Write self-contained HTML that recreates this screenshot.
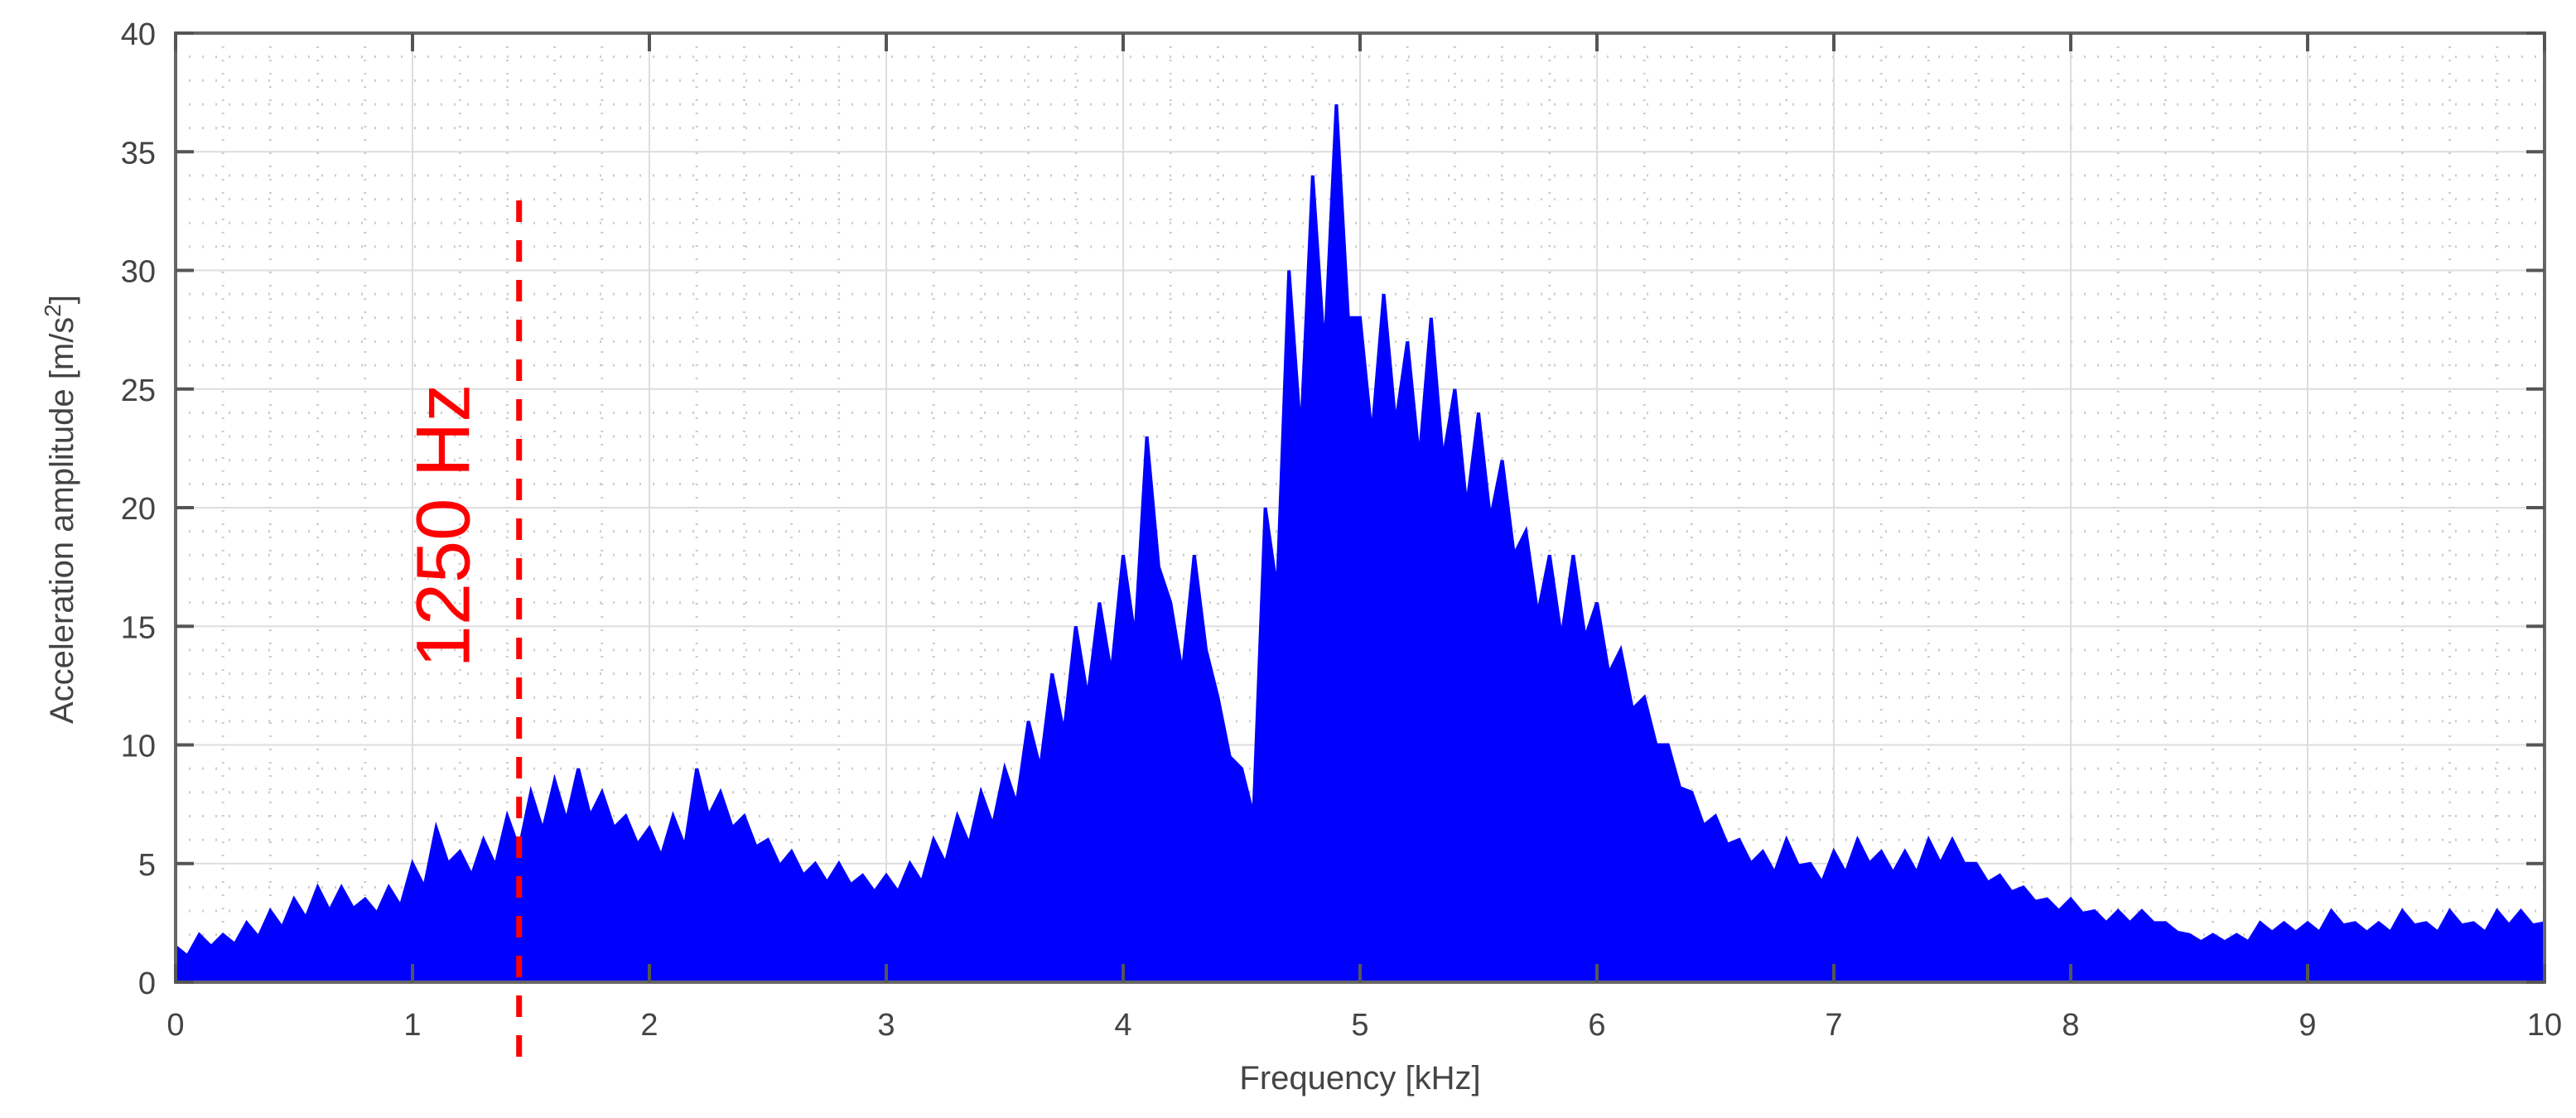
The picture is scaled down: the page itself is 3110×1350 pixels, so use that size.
<!DOCTYPE html>
<html><head><meta charset="utf-8"><style>
html,body{margin:0;padding:0;background:#fff}
svg{display:block}
text{font-family:"Liberation Sans",sans-serif}
</style></head><body>
<svg id="chart" width="3110" height="1350" viewBox="0 0 3110 1350" xmlns="http://www.w3.org/2000/svg">
<g id="grid"></g>
<g id="series"></g>
<g id="axes"></g>
<text transform="translate(88,615) rotate(-90)" text-anchor="middle" font-size="40" fill="#444">Acceleration amplitude [m/s<tspan baseline-shift="super" font-size="28">2</tspan>]</text>
<text x="1642" y="1315" text-anchor="middle" font-size="40" fill="#444">Frequency [kHz]</text>
<g id="marker"></g>
</svg>
<script>
const xTicks=[0,1,2,3,4,5,6,7,8,9,10];
const yTicks=[0,5,10,15,20,25,30,35,40];
const peakValues=[1.5,2,2,2.5,3,3.5,4,4,3.5,4,5,6.5,5.5,6,7,8,8.5,9,8,7,6.5,7,9,8,7,6,5.5,5,5,4.5,4.5,5,6,7,8,9,11,13,15,16,18,23,16,18,12,9,20,30,34,37,28,29,27,28,25,24,22,19,18,18,16,14,12,10,8,7,6,5.5,6,5,5.5,6,5.5,5.5,6,6,5,4.5,4,3.5,3.5,3,3,3,2.5,2,2,2,2.5,2.5,2.5,3,2.5,2.5,3,2.5,3,2.5,3,3];
const midValues=[1.1,1.5,1.6,1.9,2.3,2.7,3,3.1,2.9,3.2,4,5,4.5,4.9,5.6,6.4,6.8,7,6.5,5.8,5.3,5.7,7,6.5,5.7,4.9,4.5,4.2,4.1,3.8,3.8,4.2,5,5.8,6.6,7.5,9,10.5,12,13,14.5,17.5,13,14,9.5,7,16.5,23,26.5,28,23,23.5,22,22,20,19.5,18,15.5,14.5,14.5,13,11.5,10,8.2,6.6,5.8,5,4.6,4.9,4.2,4.6,5,4.6,4.6,5,5,4.2,3.8,3.4,3,2.9,2.5,2.5,2.5,2.1,1.7,1.7,1.7,2.1,2.1,2.1,2.4,2.1,2.1,2.4,2.1,2.4,2.1,2.4,2.4];
const cutoffKHz=1.45;
const NS="http://www.w3.org/2000/svg";
const X0=212,X1=3072,Y0=1186,Y1=40;
const sx=v=>X0+(v/10)*(X1-X0);
const sy=v=>Y0-(v/40)*(Y0-Y1);
function mk(t,a,p){const e=document.createElementNS(NS,t);for(const k in a)e.setAttribute(k,a[k]);p.appendChild(e);return e;}
const grid=document.getElementById('grid'),axes=document.getElementById('axes'),series=document.getElementById('series'),marker=document.getElementById('marker');
for(let i=1;i<50;i++){if(i%5===0)continue;const x=sx(i*0.2);const l=mk('line',{x1:x,y1:Y1,x2:x,y2:Y0,stroke:'#ccc','stroke-width':3,'stroke-dasharray':'2 14'},grid);

}
for(let i=1;i<40;i++){if(i%5===0)continue;const y=sy(i);const l=mk('line',{x1:X0,y1:y,x2:X1,y2:y,stroke:'#ccc','stroke-width':3,'stroke-dasharray':'2 14'},grid);

}
xTicks.forEach(t=>{const l=mk('line',{x1:sx(t),y1:Y1,x2:sx(t),y2:Y0,stroke:'#ddd','stroke-width':2},grid);

});
yTicks.forEach(t=>{const l=mk('line',{x1:X0,y1:sy(t),x2:X1,y2:sy(t),stroke:'#ddd','stroke-width':2},grid);

});
let pts=[[sx(0),sy(0)]];
for(let i=0;i<peakValues.length;i++){pts.push([sx(i*0.1),sy(peakValues[i])]);pts.push([sx(i*0.1+0.05),sy(midValues[i])]);}
pts.push([sx(10),sy(2.5)]);
const d='M'+pts.map(p=>p[0].toFixed(1)+','+p[1].toFixed(1)).join(' L')+' L'+sx(10)+','+sy(0)+' Z';
const area=mk('path',{d:d,fill:'#0000ff',stroke:'#0000ff','stroke-width':4,'stroke-linejoin':'miter'},series);


const box=mk('rect',{x:X0,y:Y1,width:X1-X0,height:Y0-Y1,fill:'none',stroke:'#666','stroke-width':4},axes);


xTicks.forEach(t=>{const tk=mk('line',{x1:sx(t),y1:Y0,x2:sx(t),y2:Y0-22,stroke:'#555','stroke-width':4},axes);


const tk2=mk('line',{x1:sx(t),y1:Y1,x2:sx(t),y2:Y1+22,stroke:'#555','stroke-width':4},axes);


const lb=mk('text',{x:sx(t),y:Y0+64,'text-anchor':'middle','font-size':38,fill:'#444'},axes);lb.textContent=t;

});
yTicks.forEach(t=>{const tk=mk('line',{x1:X0,y1:sy(t),x2:X0+22,y2:sy(t),stroke:'#555','stroke-width':4},axes);


const tk2=mk('line',{x1:X1,y1:sy(t),x2:X1-22,y2:sy(t),stroke:'#555','stroke-width':4},axes);


const lb=mk('text',{x:X0-24,y:sy(t)+14,'text-anchor':'end','font-size':38,fill:'#444'},axes);lb.textContent=t;

});
const mx=sx(cutoffKHz);
const ml=mk('line',{x1:mx,y1:242,x2:mx,y2:1290,stroke:'#ff0000','stroke-width':7,'stroke-dasharray':'26 22'},marker);


const mt=mk('text',{transform:'translate('+(mx-60)+',635) rotate(-90)','text-anchor':'middle','font-size':92,fill:'#ff0000'},marker);
mt.textContent='1250 Hz';


</script>
</body></html>
